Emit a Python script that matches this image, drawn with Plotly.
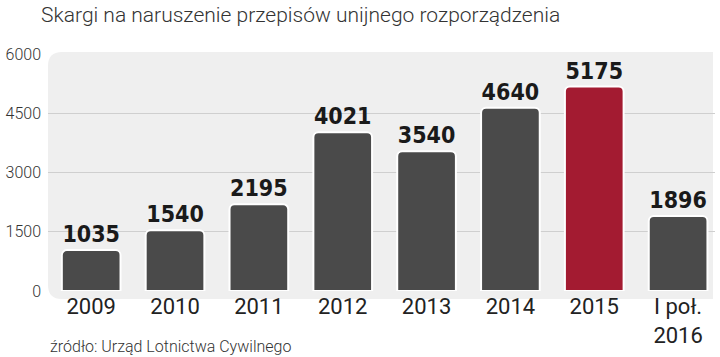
import plotly.graph_objects as go

categories = ["2009", "2010", "2011", "2012", "2013", "2014", "2015", "I poł.<br>2016"]
values = [1035, 1540, 2195, 4021, 3540, 4640, 5175, 1896]
bar_colors = ["#4a4a4a"] * 6 + ["#a31b31"] + ["#4a4a4a"]
y_ticks = [0, 1500, 3000, 4500, 6000]

W, H = 720, 357
L, R, T, B = 43, 5, 54, 66
pw, ph = W - L - R, H - T - B

fig = go.Figure(go.Bar(
    x=list(range(len(categories))),
    y=values,
    width=0.70,
    marker=dict(color=bar_colors, line=dict(color="white", width=2), cornerradius=5),
    text=[str(v) for v in values],
    textposition="outside",
    textfont=dict(family="Liberation Sans Narrow, DejaVu Sans Condensed, Roboto Condensed, Roboto",
                  size=23, color="#1a1a1a", weight="bold"),
    cliponaxis=False,
))

# rounded background panel
x0, x1 = 0, (713 - L) / pw
y0, y1 = -8 / ph, 1 + 2 / ph
rx, ry = 14 / pw, 14 / ph
path = (f"M {x0+rx},{y0} L {x1},{y0} L {x1},{y1} L {x0+rx},{y1} "
        f"Q {x0},{y1} {x0},{y1-ry} L {x0},{y0+ry} Q {x0},{y0} {x0+rx},{y0} Z")
fig.add_shape(type="path", path=path, xref="paper", yref="paper",
              fillcolor="#efefef", line=dict(width=0), layer="below")

fig.update_layout(
    width=W, height=H,
    margin=dict(l=L, r=R, t=T, b=B),
    paper_bgcolor="white", plot_bgcolor="rgba(0,0,0,0)",
    showlegend=False,
    title=dict(text="Skargi na naruszenie przepisów unijnego rozporządzenia",
               x=41 / W, xanchor="left", y=1 - 15 / H, yanchor="middle",
               font=dict(family="Roboto", size=21, color="#333333", weight=300)),
    xaxis=dict(
        tickmode="array", tickvals=list(range(len(categories))), ticktext=categories,
        range=[-0.515, 7.44], showgrid=False, zeroline=False, showline=False,
        tickfont=dict(family="Roboto", size=22, color="#222222"),
        ticks="", ticklabelstandoff=0,
    ),
    yaxis=dict(
        range=[0, 6000], tickvals=y_ticks, ticktext=[str(t) for t in y_ticks],
        showgrid=True, gridcolor="#cfcfcf", gridwidth=1, zeroline=False, showline=False,
        tickfont=dict(family="Roboto", size=16, color="#333333", weight=300),
        ticks="", ticklabelstandoff=6,
    ),
    annotations=[dict(
        text="źródło: Urząd Lotnictwa Cywilnego", xref="paper", yref="paper",
        x=0, y=-(346 - (T + ph)) / ph, xanchor="left", yanchor="middle",
        showarrow=False, font=dict(family="Roboto", size=16, color="#333333", weight=300),
    )],
)

fig.write_html("out.html", config={"displayModeBar": False},
               post_script="document.body.style.margin='0';")
